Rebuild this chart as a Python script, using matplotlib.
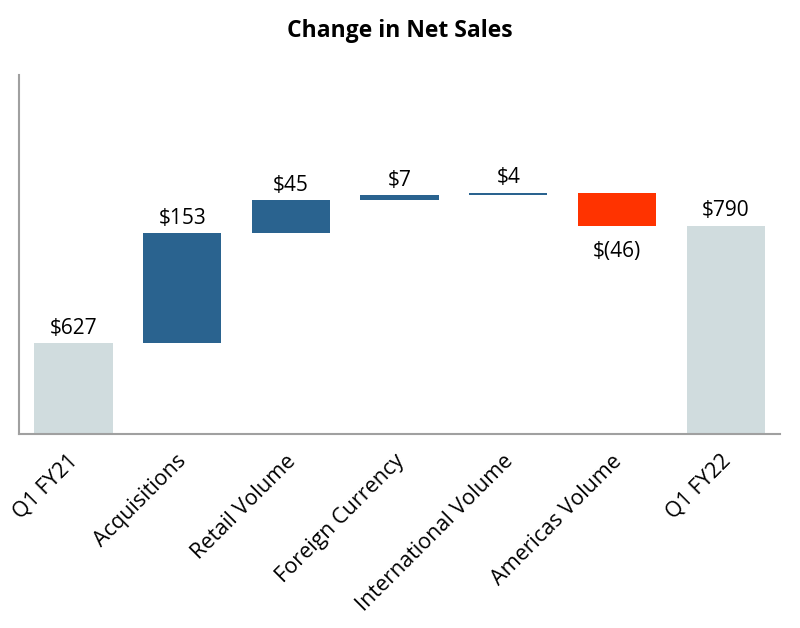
import numpy as np
import matplotlib.pyplot as plt
import matplotlib.transforms as mtransforms

# Waterfall data
categories = ["Q1 FY21", "Acquisitions", "Retail Volume", "Foreign Currency",
              "International Volume", "Americas Volume", "Q1 FY22"]
start_value = 627
changes = [153, 45, 7, 4, -46]
end_value = 790
labels = ["$627", "$153", "$45", "$7", "$4", "$(46)", "$790"]

gray = "#d0dcde"
blue = "#2a638f"
red = "#ff3300"

plt.rcParams['font.family'] = ['Open Sans', 'DejaVu Sans']

# bottoms / heights for each bar
bottoms = [0]
heights = [start_value]
running = start_value
for c in changes:
    if c >= 0:
        bottoms.append(running)
        heights.append(c)
    else:
        bottoms.append(running + c)
        heights.append(-c)
    running += c
bottoms.append(0)
heights.append(end_value)

colors = [gray] + [blue if c >= 0 else red for c in changes] + [gray]

fig = plt.figure(figsize=(8, 6.28), dpi=100)
ax = fig.add_axes([0.024, 0.309, 0.951, 0.572])

x = np.arange(len(categories))
ax.bar(x, heights, bottom=bottoms, width=0.72, color=colors)

ax.set_ylim(500, 1000)
ax.set_xlim(-0.5, 6.5)

vals = [start_value] + changes + [end_value]
for i, (b, h, v, lab) in enumerate(zip(bottoms, heights, vals, labels)):
    if v >= 0:
        ax.annotate(lab, (i, b + h), xytext=(0, 3), textcoords="offset points",
                    ha="center", va="bottom", fontsize=15)
    else:
        ax.annotate(lab, (i, b), xytext=(0, -11), textcoords="offset points",
                    ha="center", va="top", fontsize=15)

ax.set_xticks(x)
ax.set_xticklabels(categories, rotation=45, ha="right", rotation_mode="anchor",
                   fontsize=15.5)
ax.tick_params(axis="x", length=0, pad=12)
ax.set_yticks([])
shift = mtransforms.ScaledTranslation(-6 / 100, 0, fig.dpi_scale_trans)
for t in ax.get_xticklabels():
    t.set_transform(t.get_transform() + shift)

for s in ["top", "right"]:
    ax.spines[s].set_visible(False)
for s in ["left", "bottom"]:
    ax.spines[s].set_color("#a0a0a0")
    ax.spines[s].set_linewidth(1.5)

fig.text(0.5, 0.95, "Change in Net Sales", ha="center", va="center",
         fontsize=16.5, fontweight="bold")

fig.savefig("out.png", dpi=100)
